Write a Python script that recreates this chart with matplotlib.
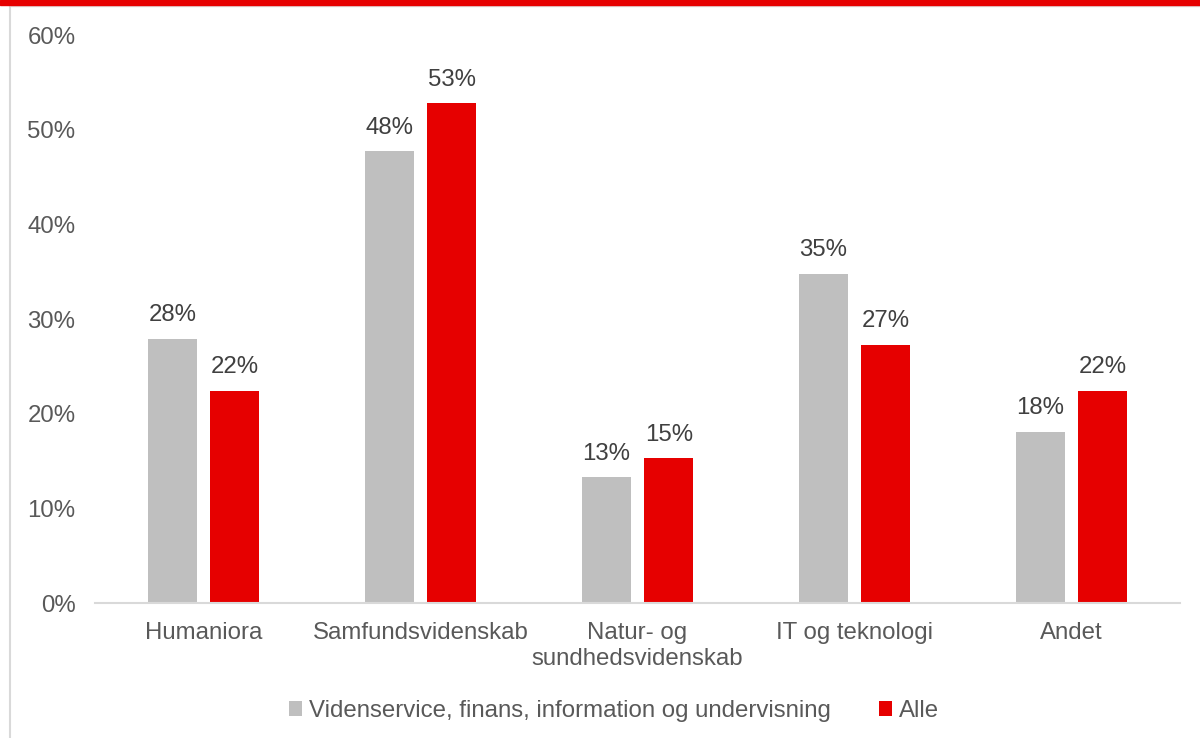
import matplotlib
matplotlib.use("Agg")
import matplotlib.pyplot as plt
from matplotlib.patches import Rectangle
from matplotlib.lines import Line2D
import numpy as np

plt.rcParams['font.family'] = ['Liberation Sans', 'DejaVu Sans']

categories = ["Humaniora", "Samfundsvidenskab", "Natur- og\nsundhedsvidenskab", "IT og teknologi", "Andet"]
series_names = ["Videnservice, finans, information og undervisning", "Alle"]
videnservice = [27.9, 47.7, 13.3, 34.8, 18.1]
alle = [22.4, 52.8, 15.3, 27.3, 22.4]
y_ticks = [0, 10, 20, 30, 40, 50, 60]

grey = "#BFBFBF"
red = "#E60000"
text_col = "#595959"
fs = 17.3

W, H = 1200, 738
fig = plt.figure(figsize=(W / 100, H / 100), dpi=100)
ax = fig.add_axes([95 / W, 1 - 603 / H, (1180 - 95) / W, (603 - 35) / H])

x = np.arange(len(categories))
width = 0.226
off = 0.144
b1 = ax.bar(x - off, videnservice, width, color=grey, label=series_names[0], zorder=2)
b2 = ax.bar(x + off, alle, width, color=red, label=series_names[1], zorder=2)

for bars, vals in ((b1, videnservice), (b2, alle)):
    for rect, v in zip(bars, vals):
        ax.annotate(f"{v:.0f}%", (rect.get_x() + rect.get_width() / 2, v),
                    xytext=(0, 9), textcoords="offset points",
                    ha="center", va="bottom", fontsize=fs, color="#404040")

ax.set_xlim(-0.5, len(categories) - 0.5)
ax.set_ylim(0, 60)
ax.set_yticks(y_ticks)
ax.set_yticklabels([f"{t}%" for t in y_ticks])
ax.set_xticks(x)
ax.set_xticklabels(categories, linespacing=1.2)
ax.tick_params(axis="both", length=0, labelsize=fs, labelcolor=text_col)
ax.tick_params(axis="y", pad=14)
ax.tick_params(axis="x", pad=14)
for s in ("top", "right", "left"):
    ax.spines[s].set_visible(False)
ax.spines["bottom"].set_color("#D9D9D9")
ax.spines["bottom"].set_linewidth(1.5)

leg = fig.legend(handles=[b1, b2], loc="center", bbox_to_anchor=(614 / W, 1 - 711 / H),
                 ncol=2, frameon=False, fontsize=fs, handlelength=0.55, handleheight=0.55,
                 handletextpad=0.3, columnspacing=2.0)
for t in leg.get_texts():
    t.set_color(text_col)

# top banner and left frame edge
fig.add_artist(Rectangle((0, 1 - 5 / H), 1, 5 / H, transform=fig.transFigure,
                         color=red, zorder=5))
fig.add_artist(Line2D([9.5 / W, 9.5 / W], [0, 1 - 5 / H], transform=fig.transFigure,
                      color="#D9D9D9", lw=1.5))
fig.add_artist(Line2D([9.5 / W, 1], [1 - 6 / H, 1 - 6 / H], transform=fig.transFigure,
                      color="#E0E0E0", lw=1))

fig.savefig("out.png", dpi=100)
